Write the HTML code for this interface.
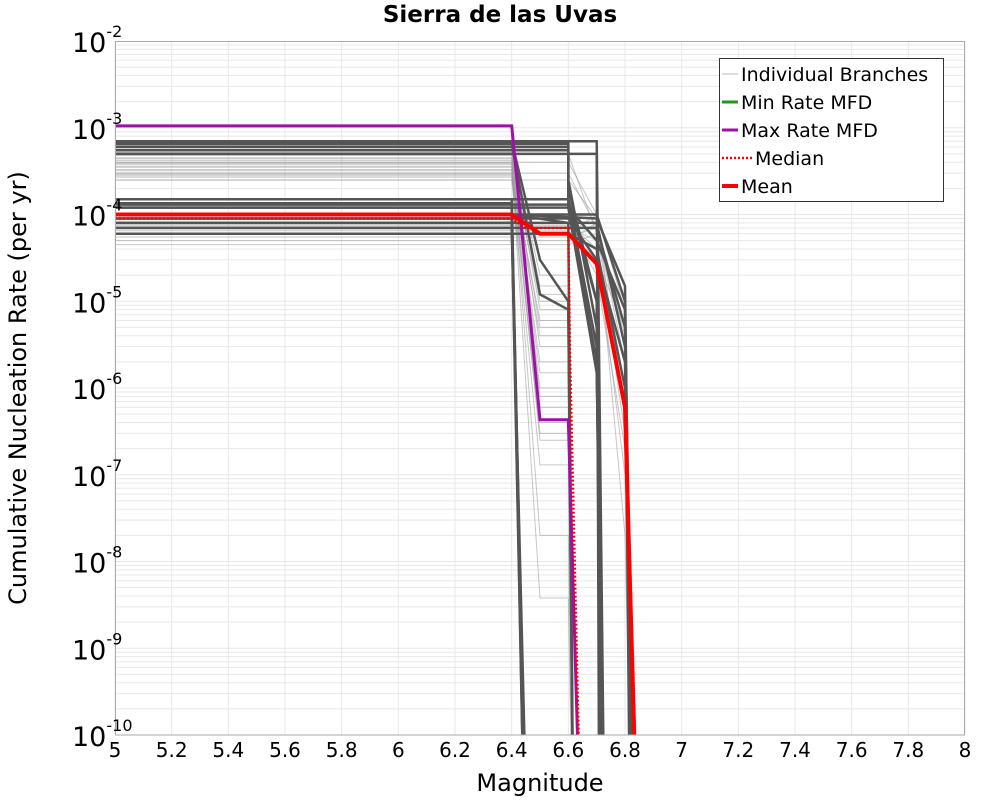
<!DOCTYPE html>
<html><head><meta charset="utf-8">
<style>
html,body{margin:0;padding:0;background:#fff;overflow:hidden;width:1000px;height:800px;font-family:"Liberation Sans","DejaVu Sans",sans-serif;}
svg{display:block;}
svg text{font-family:"DejaVu Sans","Liberation Sans",sans-serif;}
</style></head>
<body>
<svg id="chart" width="1000" height="800" viewBox="0 0 1000 800" xmlns="http://www.w3.org/2000/svg">
<rect width="1000" height="800" fill="#fff"/>
<text x="500" y="22" text-anchor="middle" font-size="23" font-weight="bold">Sierra de las Uvas</text>
<g id="grid"></g>
<defs><clipPath id="clip"><rect x="115" y="41" width="850" height="694"/></clipPath></defs>
<g id="series" clip-path="url(#clip)"></g>
<rect x="115.5" y="41.5" width="849" height="693.5" fill="none" stroke="#aaa" stroke-width="1"/>
<g id="ticks"></g>
<text x="540" y="791" text-anchor="middle" font-size="24">Magnitude</text>
<text transform="translate(26,388) rotate(-90)" text-anchor="middle" font-size="24">Cumulative Nucleation Rate (per yr)</text>
<g>
<rect x="719.5" y="58.5" width="224" height="143" fill="#fff" stroke="#333" stroke-width="1"/>
<line x1="722" y1="74" x2="738" y2="74" stroke="#bbb" stroke-width="1"/>
<text x="741" y="81" font-size="19">Individual Branches</text>
<line x1="722" y1="102" x2="738" y2="102" stroke="#1a9e1a" stroke-width="3"/>
<text x="741" y="109" font-size="19">Min Rate MFD</text>
<line x1="722" y1="130" x2="738" y2="130" stroke="#a010a8" stroke-width="3"/>
<text x="741" y="137" font-size="19">Max Rate MFD</text>
<line x1="722" y1="158" x2="752" y2="158" stroke="#f00" stroke-width="2.5" stroke-dasharray="2,2"/>
<text x="755" y="165" font-size="19">Median</text>
<line x1="722" y1="186" x2="738" y2="186" stroke="#f00" stroke-width="4"/>
<text x="741" y="193" font-size="19">Mean</text>
</g>
</svg>
<script>
const xTicks=[5,5.2,5.4,5.6,5.8,6,6.2,6.4,6.6,6.8,7,7.2,7.4,7.6,7.8,8];
const yExps=[-2,-3,-4,-5,-6,-7,-8,-9,-10];
const lightMags=[
[5,6.4,6.5,6.6,6.62],[5,6.4,6.5,6.6,6.62],[5,6.4,6.5,6.6,6.62],[5,6.4,6.5,6.6,6.62],[5,6.4,6.5,6.6,6.62],
[5,6.4,6.5,6.6,6.62],[5,6.4,6.5,6.6,6.62],[5,6.4,6.5,6.6,6.62],[5,6.4,6.5,6.6,6.62],[5,6.4,6.5,6.6,6.62],
[5,6.4,6.5,6.6,6.62],[5,6.4,6.5,6.6,6.62],[5,6.4,6.5,6.6,6.62],[5,6.4,6.5,6.6,6.62],[5,6.4,6.5,6.6,6.62],
[5,6.4,6.5,6.6,6.62],[5,6.4,6.5,6.6,6.62],[5,6.4,6.5,6.6,6.62],[5,6.4,6.5,6.6,6.62],[5,6.4,6.5,6.6,6.62],
[5,6.6,6.7,6.8,6.83],[5,6.6,6.7,6.8,6.83],[5,6.6,6.7,6.8,6.83],[5,6.6,6.7,6.8,6.83],[5,6.6,6.7,6.8,6.83],
[5,6.6,6.7,6.8,6.83],[5,6.6,6.7,6.8,6.83],[5,6.6,6.7,6.8,6.83],[5,6.6,6.7,6.8,6.83],[5,6.6,6.7,6.8,6.83],
[5,6.6,6.7,6.8,6.83],[5,6.6,6.7,6.8,6.83]];
const lightRates=[
[4.5e-4,4.5e-4,1.2e-5,1.2e-5,1e-12],[3.8e-4,3.8e-4,5e-6,5e-6,1e-12],[3.2e-4,3.2e-4,2e-6,2e-6,1e-12],[5.2e-4,5.2e-4,8e-7,8e-7,1e-12],[2.8e-4,2.8e-4,3e-7,3e-7,1e-12],
[2.5e-4,2.5e-4,1.3e-7,1.3e-7,1e-12],[4e-4,4e-4,2e-8,2e-8,1e-12],[3.5e-4,3.5e-4,3.8e-9,3.8e-9,1e-12],[6e-4,6e-4,2e-5,2e-5,1e-12],[4.2e-4,4.2e-4,2.5e-7,2.5e-7,1e-12],
[4.8e-4,4.8e-4,8e-6,8e-6,1e-12],[3e-4,3e-4,6e-6,6e-6,1e-12],[2.7e-4,2.7e-4,4e-6,4e-6,1e-12],[5.5e-4,5.5e-4,3e-6,3e-6,1e-12],[3.3e-4,3.3e-4,1.5e-6,1.5e-6,1e-12],
[4.4e-4,4.4e-4,1e-6,1e-6,1e-12],[3.6e-4,3.6e-4,6e-7,6e-7,1e-12],[2.9e-4,2.9e-4,4e-7,4e-7,1e-12],[5e-4,5e-4,1.5e-5,1.5e-5,1e-12],[3.9e-4,3.9e-4,1e-5,1e-5,1e-12],
[6e-5,6e-5,1e-4,1e-5,1e-12],[5e-5,5e-5,8e-5,3e-6,1e-12],[4.5e-5,4.5e-5,6e-5,1e-6,1e-12],[7e-5,7e-5,5e-5,3e-7,1e-12],[8e-5,8e-5,4e-5,1e-7,1e-12],
[5.5e-5,5.5e-5,7e-5,2e-8,1e-12],[6.5e-5,6.5e-5,3e-5,5e-6,1e-12],[7.5e-5,7.5e-5,2e-5,2e-7,1e-12],[4e-4,4e-4,1e-4,8e-6,1e-12],[3e-4,3e-4,7e-5,2e-6,1e-12],
[2.5e-4,2.5e-4,9e-5,5e-7,1e-12],[5e-4,5e-4,6e-5,4e-6,1e-12]];
const darkMags=[
[5,6.4,6.455],[5,6.4,6.455],[5,6.4,6.45],[5,6.4,6.46],[5,6.4,6.45],[5,6.4,6.455],
[5,6.7,6.73],[5,6.6,6.6,6.7,6.73],[5,6.6,6.6,6.7,6.72],[5,6.7,6.71],[5,6.6,6.6,6.7,6.73],[5,6.6,6.6,6.7,6.72],
[5,6.4,6.7,6.8,6.83],[5,6.4,6.7,6.8,6.84],[5,6.4,6.6,6.7,6.8,6.83],[5,6.4,6.7,6.8,6.83],[5,6.4,6.7,6.8,6.84],
[5,6.6,6.7,6.72],[5,6.6,6.7,6.73],[5,6.4,6.6,6.62],[5,6.6,6.7,6.8,6.82],[5,6.6,6.7,6.8,6.83],
[5,6.4,6.5,6.6,6.62],[5,6.4,6.5,6.6,6.62]];
const darkRates=[
[1.5e-4,1.5e-4,1e-12],[1.2e-4,1.2e-4,1e-12],[9e-5,9e-5,1e-12],[7e-5,7e-5,1e-12],[1.35e-4,1.35e-4,1e-12],[8e-5,8e-5,1e-12],
[7e-4,7e-4,1e-12],[6.5e-4,6.5e-4,2e-4,1e-5,1e-12],[6e-4,6e-4,1.5e-4,3e-6,1e-12],[5e-4,5e-4,1e-12],[5.5e-4,5.5e-4,1.2e-4,1.5e-6,1e-12],[6.8e-4,6.8e-4,2.5e-4,5e-6,1e-12],
[1e-4,1e-4,1e-4,1e-5,1e-12],[8e-5,8e-5,8e-5,3e-6,1e-12],[6e-5,6e-5,6e-5,4e-5,1e-6,1e-12],[1e-4,1e-4,9e-5,1.5e-5,1e-12],[7e-5,7e-5,7e-5,5e-6,1e-12],
[1.5e-4,1.5e-4,1e-5,1e-12],[1.3e-4,1.3e-4,2e-6,1e-12],[1e-4,1e-4,8e-5,1e-12],[1.2e-4,1.2e-4,5e-5,8e-6,1e-12],[9e-5,9e-5,3e-5,2e-6,1e-12],
[7e-4,7e-4,3e-5,1e-5,1e-12],[6.5e-4,6.5e-4,1.2e-5,8e-6,1e-12]];
const maxMags=[5,6.4,6.5,6.6,6.65];
const maxRates=[1.05e-3,1.05e-3,4.3e-7,4.3e-7,1e-12];
const medianMags=[5,6.4,6.45,6.6,6.605,6.65];
const medianRates=[9e-5,9e-5,7e-5,7e-5,3e-6,1e-12];
const meanMags=[5,6.4,6.5,6.6,6.7,6.8,6.85];
const meanRates=[1e-4,1e-4,6e-5,6e-5,2.7e-5,6e-7,1e-12];

const X=m=>115+(m-5)/3*850;
const Y=v=>41+(-2-Math.log10(v))*86.75;
const NS='http://www.w3.org/2000/svg';
function mk(tag,attrs,parent){const e=document.createElementNS(NS,tag);for(const k in attrs)e.setAttribute(k,attrs[k]);parent.appendChild(e);return e;}
const grid=document.getElementById('grid'),ticks=document.getElementById('ticks'),series=document.getElementById('series');
for(let d=-10;d<-2;d++){for(let k=1;k<10;k++){const y=Y(k*Math.pow(10,d));
const l=mk('line',{x1:115,x2:965,y1:y,y2:y,stroke:'#e8e8e8','stroke-width':1},grid);

}}
xTicks.forEach(t=>{const x=X(t);
const l=mk('line',{x1:x,x2:x,y1:41,y2:735,stroke:'#e8e8e8','stroke-width':1},grid);


const tx=mk('text',{x:x,y:757,'text-anchor':'middle','font-size':20},ticks);


tx.textContent=String(t);});
yExps.forEach(e=>{const y=Y(Math.pow(10,e));
const tx=mk('text',{x:72,y:y+11,'font-size':27},ticks);


tx.textContent='10';
const s=mk('tspan',{dy:-15,'font-size':16},tx);s.textContent=String(e);});
function line(m,r,attrs,name){const pts=m.map((v,i)=>X(v).toFixed(1)+','+Y(r[i]).toFixed(1)).join(' ');
const p=mk('polyline',Object.assign({points:pts,fill:'none','stroke-linejoin':'miter'},attrs),series);

}
lightMags.forEach((m,i)=>line(m,lightRates[i],{stroke:'#999','stroke-width':1,'stroke-opacity':0.55},'branch-light'));
darkMags.forEach((m,i)=>line(m,darkRates[i],{stroke:'#555','stroke-width':2.5},'branch-dark'));
line(maxMags,maxRates,{stroke:'#a010a8','stroke-width':3},'max-rate-line');
line(meanMags,meanRates,{stroke:'#f00','stroke-width':4},'mean-line');
line(medianMags,medianRates,{stroke:'#f00','stroke-width':2.5,'stroke-dasharray':'2,2'},'median-line');
</script>
</body></html>
